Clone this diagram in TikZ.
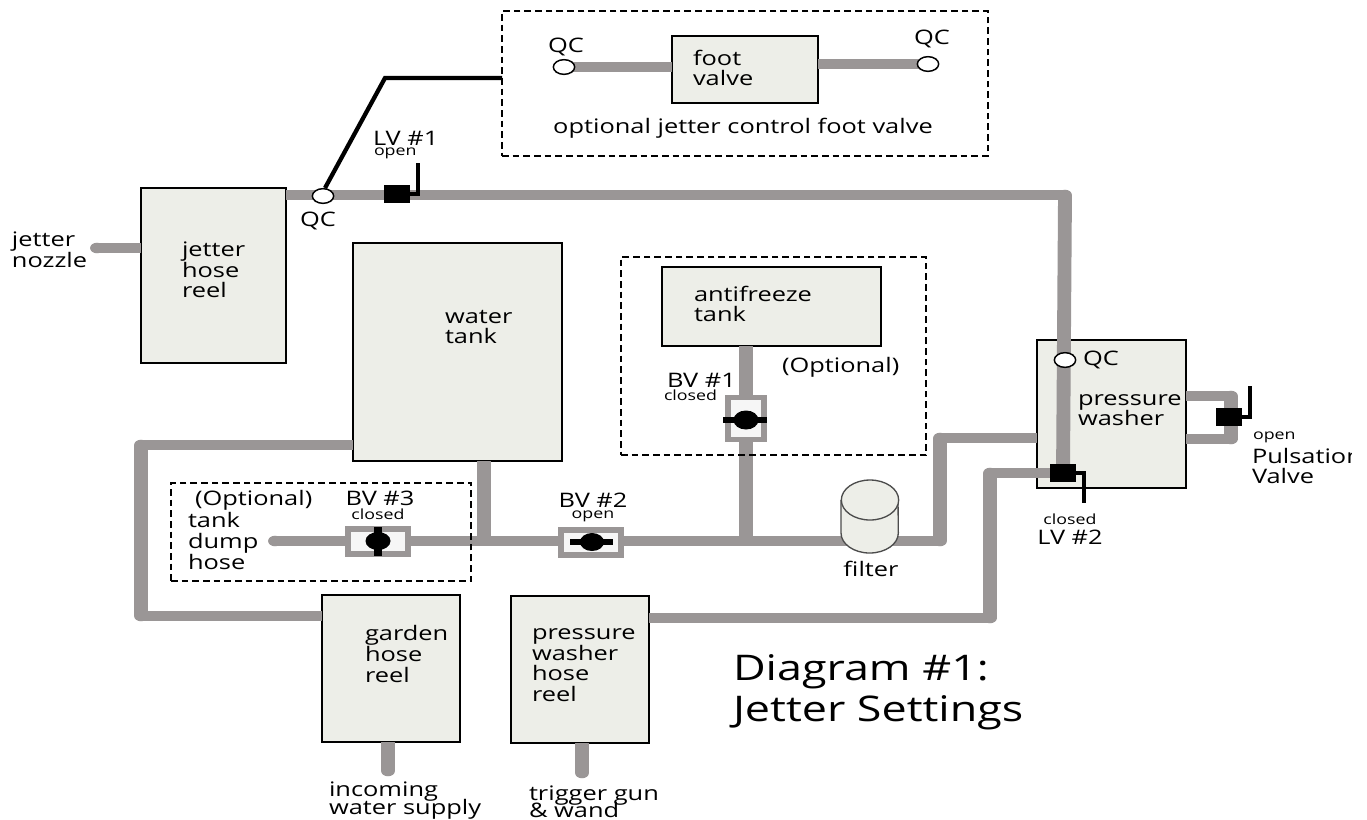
\documentclass[tikz,border=0pt]{standalone}
\usepackage{fontspec}
\setmainfont[FakeStretch=1.27]{Open Sans}
\usetikzlibrary{calc,shapes.geometric}
\setlength{\normallineskiplimit}{-20pt}
\setlength{\lineskiplimit}{-20pt}
\definecolor{pipegray}{HTML}{9A9696}
\definecolor{boxfill}{HTML}{EDEEE8}
\definecolor{valvefill}{HTML}{F6F6F6}
\tikzset{
  x=0.75pt,y=-0.75pt,
  unit/.style={inner sep=0pt,outer sep=0pt},
  equip/.style={draw=black,line width=1.1pt,fill=boxfill,rectangle,unit},
  dashbox/.style={draw=black,line width=1pt,dash pattern=on 5pt off 3pt,fill=none,rectangle,unit},
  hpipe/.style={draw=pipegray,line width=7.9pt},
  vpipe/.style={draw=pipegray,line width=10.4pt},
  pipebend/.style={fill=pipegray,ellipse,unit,minimum width=10.4pt,minimum height=7.9pt},
  link/.style={draw=black,line width=3.2pt,line join=miter},
  handle/.style={draw=black,line width=3.6pt,line join=miter},
  qc/.style={draw=black,line width=1.1pt,fill=white,ellipse,unit,minimum width=16pt,minimum height=11pt},
  lever/.style={fill=black,rectangle,unit,minimum width=19.5pt,minimum height=13.5pt},
  ballbox/.style={draw=pipegray,line width=4pt,fill=valvefill,rectangle,unit},
  ball/.style={fill=black,ellipse,unit},
  vbar/.style={draw=black,line width=5.6pt},
  hbar/.style={draw=black,line width=3.8pt},
  txt/.style={unit,align=left,anchor=west,font=\fontsize{15}{15.5}\selectfont},
  txtc/.style={unit,align=center,anchor=center,font=\fontsize{15}{15.5}\selectfont},
  tight/.style={unit,align=left,anchor=west,font=\fontsize{15}{12.9}\selectfont},
  small/.style={unit,anchor=center,font=\fontsize{10.5}{12}\selectfont},
  title/.style={unit,align=left,anchor=west,font=\fontsize{26.5}{31}\selectfont},
}
\newcommand{\eqbox}[5]{\node[equip,minimum width=#4*0.75pt,minimum height=#5*0.75pt] (#1) at (#2,#3) {};}
\begin{document}
\begin{tikzpicture}
\useasboundingbox (0,0) rectangle (1367,819);
% equipment boxes
\eqbox{jetreel}{213.5}{275.5}{145}{175}
\eqbox{tank}{457.5}{352}{209}{218}
\eqbox{anti}{771.5}{306.5}{219}{79}
\eqbox{washer}{1111.5}{414}{149}{148}
\eqbox{foot}{745}{69.5}{146}{67}
\eqbox{garden}{391}{668.5}{138}{147}
\eqbox{pwreel}{580}{669.5}{138}{147}
% free ends and junctions
\coordinate (pv2) at (1063,473);
\coordinate (j1) at (484,541);
\coordinate (j2) at (746,541);
\coordinate (k1) at (385,78);
% pipe bends and rounded free ends
\node[pipebend] (nozzle) at (97,248) {};
\node[pipebend] (dumpend) at (275,541) {};
\node[pipebend] (water) at (388,771) {};
\node[pipebend] (gun) at (582,773) {};
\node[pipebend] (c1) at (1065,195) {};
\node[pipebend] (c2) at (141,445) {};
\node[pipebend] (c3) at (141,616) {};
\node[pipebend] (c4) at (940,541) {};
\node[pipebend] (c5) at (940,438) {};
\node[pipebend] (c6) at (990,618) {};
\node[pipebend] (c7) at (990,473) {};
\node[pipebend] (p1) at (1231,396) {};
\node[pipebend] (p2) at (1231,439) {};
% pipes
\draw[hpipe] (nozzle.center) -- (jetreel.west |- nozzle);
\draw[hpipe] (jetreel.east |- c1) -- (c1.center);
\draw[vpipe] (c1.center) -- (pv2);
\draw[hpipe] (tank.west |- c2) -- (c2.center);
\draw[vpipe] (c2.center) -- (c3.center);
\draw[hpipe] (c3.center) -- (garden.west |- c3);
\draw[hpipe] (dumpend.center) -- (j1);
\draw[hpipe] (j1) -- (c4.center);
\draw[vpipe] (c4.center) -- (c5.center);
\draw[hpipe] (c5.center) -- (washer.west |- c5);
\draw[vpipe] (tank.south -| j1) -- (j1);
\draw[vpipe] (anti.south -| j2) -- (j2);
\draw[hpipe] (pwreel.east |- c6) -- (c6.center);
\draw[vpipe] (c6.center) -- (c7.center);
\draw[hpipe] (c7.center) -- (pv2);
\draw[vpipe] (water.center) -- (garden.south -| water);
\draw[vpipe] (gun.center) -- (pwreel.south -| gun);
\draw[hpipe] (washer.east |- p1) -- (p1.center);
\draw[vpipe] (p1.center) -- (p2.center);
\draw[hpipe] (p2.center) -- (washer.east |- p2);
\node[qc] (qcmain) at (323,196) {};
\node[qc] (qcwash) at (1065,360) {};
\coordinate (qla) at (564,67);
\coordinate (qra) at (928,64);
\draw[hpipe] (qla) -- (foot.west |- qla);
\draw[hpipe] (foot.east |- qra) -- (qra);
\node[qc] (qcl) at (qla) {};
\node[qc] (qcr) at (qra) {};
% dashed boxes
\node[dashbox,minimum width=486*0.75pt,minimum height=145*0.75pt] (dfoot) at (745,83.5) {};
\node[dashbox,minimum width=305*0.75pt,minimum height=198*0.75pt] (danti) at (773.5,356) {};
\node[dashbox,minimum width=300*0.75pt,minimum height=98*0.75pt] (ddump) at (321,532) {};
% foot valve link
\draw[link] (qcmain) ++(2,-8) -- (k1) -- (dfoot.west |- k1);
% lever valves
\node[lever] (lv1) at (397,194) {};
\coordinate (lv1a) at (418,194); \coordinate (lv1b) at (418,163);
\draw[handle] (lv1.east) -- (lv1a) -- (lv1b);
\node[lever] (lv2) at (1063,473) {};
\coordinate (lv2a) at (1084,473); \coordinate (lv2b) at (1084,503);
\draw[handle] (lv2.east) -- (lv2a) -- (lv2b);
\node[lever] (pv) at (1229,417) {};
\coordinate (pva) at (1250,417); \coordinate (pvb) at (1250,386);
\draw[handle] (pv.east) -- (pva) -- (pvb);
% ball valves
\node[ballbox,minimum width=60*0.75pt,minimum height=25*0.75pt] (bv3) at (378,541.5) {};
\node[ball,minimum width=25*0.75pt,minimum height=18*0.75pt] (b3) at (378,541) {};
\draw[vbar] ($(bv3.north -| b3)+(0,-2)$) -- ($(bv3.south -| b3)+(0,2)$);
\node[ballbox,minimum width=60*0.75pt,minimum height=25*0.75pt] (bv2) at (591,542.5) {};
\node[ball,minimum width=24*0.75pt,minimum height=18*0.75pt] (b2) at (592,542) {};
\draw[hbar] ($(bv2.west |- b2)+(9,0)$) -- ($(bv2.east |- b2)+(-8,0)$);
\node[ballbox,minimum width=36*0.75pt,minimum height=42*0.75pt] (bv1) at (746,418.5) {};
\node[ball,minimum width=25*0.75pt,minimum height=19*0.75pt] (b1) at (746,420) {};
\draw[hbar] ($(bv1.west |- b1)+(-5,0)$) -- ($(bv1.east |- b1)+(3,0)$);
% filter
\coordinate (fc) at (870,500);
\draw[draw=black!70,line width=1pt,fill=boxfill] (841,500) -- (841,533) arc[start angle=180,end angle=360,x radius=21.5pt,y radius=15pt] -- (898,500);
\node[draw=black!70,line width=1pt,fill=boxfill,ellipse,unit,minimum width=43pt,minimum height=30pt] (filtertop) at (fc) {};
% labels
\node[txt] (t1) at (12,250) {jetter\\nozzle};
\node[txt] (t2) at (182,270) {jetter\\hose\\reel};
\node[txtc] (t3) at (318,221) {QC};
\node[txt] (t4) at (373,138) {LV \#1};
\node[small,anchor=west] (t5) at (374,153) {open};
\node[txtc] (t6) at (566,47) {QC};
\node[txtc] (t7) at (932,39) {QC};
\node[txt] (t8) at (693,68) {foot\\valve};
\node[txtc] (t9) at (743,128) {optional jetter control foot valve};
\node[txt] (t10) at (694,304) {antifreeze\\tank};
\node[txt] (t11) at (782,367) {(Optional)};
\node[txt] (t12) at (667,380) {BV \#1};
\node[small,anchor=west] (t13) at (664,395) {closed};
\node[txt] (t14) at (445,327) {water\\tank};
\node[txt] (t15) at (1078,410) {pressure\\washer};
\node[txt] (t16) at (1083,360) {QC};
\node[small,anchor=west] (t17) at (1253,437) {open};
\begin{scope}
\clip (1200,440) rectangle (1351,490);
\node[txt] (t18) at (1252,466) {Pulsation\\Valve};
\end{scope}
\node[small] (t19) at (1070,519) {closed};
\node[txtc] (t20) at (1070,537) {LV \#2};
\node[txt] (t21) at (195,500) {(Optional)};
\node[txt] (t22) at (188,541) {tank\\dump\\hose};
\node[txtc] (t23) at (380,498) {BV \#3};
\node[small] (t24) at (378,514) {closed};
\node[txtc] (t25) at (593,500) {BV \#2};
\node[small] (t26) at (593,516) {open};
\node[txtc] (t27) at (871,569) {filter};
\node[txt] (t28) at (365,654) {garden\\hose\\reel};
\node[txt] (t29) at (532,665) {pressure\\washer\\hose\\reel};
\node[title] (t30) at (733,692) {Diagram \#1:\\Jetter Settings};
\node[tight] (t31) at (329,800.5) {incoming\\water supply};
\node[tight] (t32) at (529,802) {trigger gun\\\& wand};
\end{tikzpicture}
\end{document}
